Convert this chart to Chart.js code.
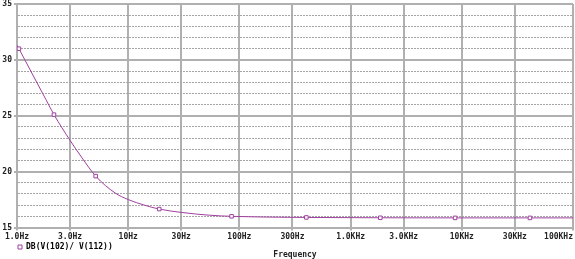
<!DOCTYPE html>
<html>
<head>
<meta charset="utf-8">
<script src="https://cdn.jsdelivr.net/npm/chart.js@4.4.1/dist/chart.umd.min.js"></script>
<style>
  html, body { margin: 0; padding: 0; background: #fff; }
  #wrap { width: 575px; height: 259px; }
</style>
</head>
<body>
<div id="wrap"><canvas id="plot" width="575" height="259"></canvas></div>
<script>
/* values: frequency (Hz) and gain (dB) */
const freqs = [1, 1.04, 1.33, 1.82, 2.15, 3, 3.8, 5.1, 7.6, 10, 14, 19, 30, 54, 85, 230, 400, 1850, 8700, 41000, 100000];
const dbValues = [31.3, 31.0, 29.0, 26.45, 25.1, 22.8, 21.3, 19.6, 18.1, 17.5, 17.0, 16.65, 16.35, 16.1, 16.0, 15.92, 15.9, 15.87, 15.86, 15.86, 15.86];
/* frequencies where the plot shows its little square markers */
const markerFreqs = [1.04, 2.15, 5.1, 19, 85, 400, 1850, 8700, 41000];

const xTicks = [1, 3, 10, 30, 100, 300, 1000, 3000, 10000, 30000, 100000];
const xTickLabels = ['1.0Hz', '3.0Hz', '10Hz', '30Hz', '100Hz', '300Hz', '1.0KHz', '3.0KHz', '10KHz', '30KHz', '100KHz      '];
const yTicks = [15, 16, 17, 18, 19, 20, 21, 22, 23, 24, 25, 26, 27, 28, 29, 30, 31, 32, 33, 34, 35];
const seriesLabel = 'DB(V(102)/ V(112))';

const traceColor = '#a040a0';
const majorGrid = '#b0b0b0';
const minorGrid = '#a4a4a4';
const font = { family: 'DejaVu Sans Mono', size: 8, weight: 'bold' };

const points = freqs.map((f, i) => ({ x: f, y: dbValues[i] }));
const isMajor = (c) => c.tick && c.tick.value % 5 === 0;

new Chart(document.getElementById('plot'), {
  type: 'line',
  data: {
    datasets: [{
      label: seriesLabel,
      data: points,
      borderColor: traceColor,
      borderWidth: 1,
      cubicInterpolationMode: 'monotone',
      pointStyle: 'rect',
      pointRadius: (c) => markerFreqs.includes(freqs[c.dataIndex]) ? 2.5 : 0,
      pointBackgroundColor: '#fff',
      pointBorderColor: traceColor,
      pointBorderWidth: 1,
      fill: false
    }]
  },
  options: {
    responsive: false,
    animation: false,
    devicePixelRatio: 1,
    layout: { autoPadding: false, padding: { left: 0, right: 2, top: 4, bottom: 0 } },
    plugins: {
      tooltip: { enabled: false },
      legend: {
        position: 'bottom',
        align: 'start',
        fullSize: false,
        maxHeight: 9,
        labels: {
          boxWidth: 4,
          boxHeight: 4,
          padding: 1,
          color: '#222',
          font: font,
          generateLabels: (chart) => [{
            text: chart.data.datasets[0].label,
            fillStyle: '#fff',
            strokeStyle: traceColor,
            lineWidth: 1,
            hidden: false,
            datasetIndex: 0
          }]
        }
      },
      subtitle: {
        display: true,
        text: 'Frequency',
        position: 'bottom',
        fullSize: false,
        color: '#222',
        font: { family: 'DejaVu Sans Mono', size: 8, weight: 'bold', lineHeight: 1 },
        padding: 0
      }
    },
    scales: {
      x: {
        type: 'logarithmic',
        min: 1,
        max: 100000,
        afterBuildTicks: (scale) => { scale.ticks = xTicks.map(v => ({ value: v })); },
        afterFit: (scale) => {
          scale.height = 14.5;
          scale.paddingLeft = 0;
          scale.paddingRight = 0;
        },
        ticks: {
          autoSkip: false,
          maxRotation: 0,
          padding: 2,
          color: '#222',
          font: font,
          callback: (v, i) => xTickLabels[i]
        },
        grid: { color: majorGrid, lineWidth: 2, tickLength: 3, tickColor: majorGrid },
        border: { color: majorGrid, width: 2 }
      },
      y: {
        min: 15,
        max: 35,
        afterBuildTicks: (scale) => { scale.ticks = yTicks.map(v => ({ value: v })); },
        afterFit: (scale) => {
          scale.width = 17;
          scale.paddingTop = 0;
          scale.paddingBottom = 0;
        },
        ticks: {
          autoSkip: false,
          padding: 2,
          color: '#222',
          font: font,
          callback: (v) => v % 5 === 0 ? String(v) : ''
        },
        grid: {
          color: (c) => isMajor(c) ? majorGrid : minorGrid,
          lineWidth: (c) => isMajor(c) ? 2 : 1,
          tickLength: 3,
          tickColor: (c) => isMajor(c) ? majorGrid : 'rgba(0,0,0,0)'
        },
        border: {
          color: majorGrid,
          width: 2,
          dash: (c) => isMajor(c) ? [] : [2, 1]
        }
      }
    }
  }
});
</script>
</body>
</html>
